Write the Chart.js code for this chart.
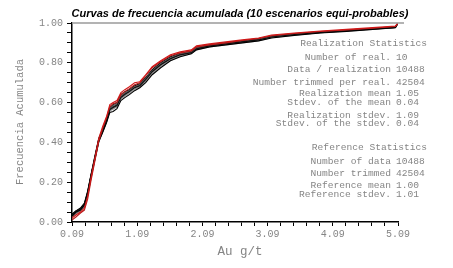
<!DOCTYPE html>
<html>
<head>
<meta charset="utf-8">
<script src="https://cdn.jsdelivr.net/npm/chart.js@4.4.1/dist/chart.umd.min.js"></script>
<style>
  body { margin: 0; background: #fff; }
  #wrap { width: 453px; height: 268px; }
</style>
</head>
<body>
<div id="wrap"><canvas id="cdfChart" width="453" height="268"></canvas></div>
<script>
// grades (Au g/t) shared by every realization
const grades = [0.09, 0.15, 0.22, 0.28, 0.33, 0.38, 0.44, 0.50, 0.56, 0.62, 0.67, 0.72, 0.78, 0.84, 0.90, 0.97, 1.05, 1.13, 1.22, 1.32, 1.45, 1.60, 1.75, 1.92, 2.00, 2.20, 2.45, 2.70, 2.95, 3.15, 3.50, 3.90, 4.30, 4.70, 5.05, 5.09];

// cumulative frequency of each realization
const real1 = [0.020,0.035,0.050,0.070,0.130,0.220,0.320,0.420,0.480,0.530,0.590,0.600,0.610,0.650,0.665,0.680,0.700,0.705,0.740,0.780,0.810,0.840,0.855,0.865,0.885,0.895,0.905,0.915,0.925,0.940,0.950,0.960,0.968,0.977,0.985,1.000];
const real2 = [0.010,0.025,0.045,0.060,0.115,0.205,0.305,0.405,0.470,0.525,0.580,0.595,0.600,0.640,0.655,0.670,0.690,0.700,0.735,0.775,0.805,0.835,0.850,0.860,0.880,0.890,0.900,0.912,0.922,0.936,0.947,0.957,0.965,0.974,0.982,1.000];
const real3 = [0.030,0.050,0.060,0.085,0.145,0.225,0.315,0.405,0.450,0.500,0.550,0.555,0.570,0.610,0.625,0.640,0.660,0.675,0.700,0.740,0.775,0.810,0.830,0.845,0.865,0.880,0.890,0.900,0.910,0.925,0.938,0.950,0.958,0.968,0.976,1.000];
const real4 = [0.035,0.055,0.065,0.090,0.150,0.230,0.325,0.415,0.460,0.510,0.565,0.575,0.585,0.625,0.640,0.655,0.675,0.685,0.715,0.755,0.790,0.820,0.840,0.850,0.870,0.885,0.895,0.905,0.915,0.930,0.942,0.953,0.961,0.970,0.978,1.000];
const real5 = [0.025,0.045,0.060,0.080,0.140,0.225,0.315,0.405,0.455,0.505,0.570,0.585,0.595,0.635,0.650,0.660,0.680,0.690,0.720,0.760,0.795,0.825,0.845,0.855,0.875,0.887,0.897,0.908,0.918,0.932,0.944,0.955,0.963,0.972,0.980,1.000];
const real6 = [0.030,0.045,0.055,0.075,0.135,0.215,0.310,0.400,0.455,0.505,0.560,0.570,0.580,0.620,0.635,0.650,0.670,0.680,0.710,0.750,0.785,0.815,0.835,0.848,0.868,0.882,0.892,0.902,0.912,0.927,0.940,0.951,0.960,0.969,0.977,1.000];
const real7 = [0.040,0.055,0.070,0.095,0.155,0.235,0.330,0.420,0.465,0.515,0.575,0.590,0.600,0.640,0.655,0.665,0.685,0.695,0.725,0.765,0.800,0.830,0.848,0.858,0.878,0.890,0.900,0.910,0.920,0.934,0.946,0.956,0.964,0.973,0.981,1.000];
const real8 = [0.025,0.040,0.055,0.075,0.135,0.220,0.312,0.402,0.452,0.502,0.558,0.566,0.578,0.618,0.632,0.646,0.666,0.678,0.706,0.746,0.782,0.812,0.832,0.846,0.866,0.880,0.890,0.900,0.910,0.926,0.939,0.951,0.959,0.968,0.977,1.000];
const real9 = [0.030,0.050,0.062,0.082,0.142,0.228,0.320,0.410,0.458,0.508,0.562,0.572,0.590,0.630,0.645,0.658,0.678,0.688,0.718,0.758,0.792,0.822,0.842,0.852,0.872,0.886,0.896,0.906,0.916,0.931,0.943,0.954,0.962,0.971,0.979,1.000];
const real10 = [0.035,0.050,0.065,0.088,0.148,0.232,0.322,0.412,0.462,0.512,0.567,0.580,0.588,0.628,0.643,0.656,0.676,0.686,0.716,0.756,0.790,0.820,0.840,0.852,0.872,0.885,0.895,0.905,0.915,0.930,0.942,0.953,0.961,0.970,0.978,1.000];

const realizations = [real1, real2, real3, real4, real5, real6, real7, real8, real9, real10];
const lineColors = ['#d01818', '#b81c1c', '#000000', '#111111', '#555555', '#888888', '#000000', '#aaaaaa', '#333333', '#1a1a1a'];

const xTickLabels = ['0.09', '1.09', '2.09', '3.09', '4.09', '5.09'];
const yTickLabels = ['0.00', '0.20', '0.40', '0.60', '0.80', '1.00'];

const realStats = [
    ['Number of real.', '10'],
    ['Data / realization', '10488'],
    ['Number trimmed per real.', '42504'],
    ['Realization mean', '1.05'],
    ['Stdev. of the mean', '0.04'],
    ['Realization stdev.', '1.09'],
    ['Stdev. of the stdev.', '0.04']
];
const refStats = [
    ['Number of data', '10488'],
    ['Number trimmed', '42504'],
    ['Reference mean', '1.00'],
    ['Reference stdev.', '1.01']
];

const monoFont = '"Liberation Mono", "DejaVu Sans Mono", monospace';
const textGrey = '#858585';

let datasets = realizations.map(function (vals, i) {
    return {
        label: 'Realization ' + (i + 1),
        data: grades.map(function (g, j) { return { x: g, y: vals[j] }; }),
        borderColor: lineColors[i],
        borderWidth: 1.1,
        pointRadius: 0,
        tension: 0,
        fill: false
    };
});

// text, the grey 1.00 line and statistics boxes
const decorations = {
    id: 'decorations',
    afterDraw(chart) {
        const ctx = chart.ctx;
        const area = chart.chartArea;
        const yTop = chart.scales.y.getPixelForValue(1);
        ctx.save();

        ctx.strokeStyle = '#9a9a9a';
        ctx.lineWidth = 1.5;
        ctx.beginPath();
        ctx.moveTo(area.left, yTop);
        ctx.lineTo(area.right + 6, yTop);
        ctx.stroke();

        ctx.fillStyle = '#000';
        ctx.font = 'italic bold 11px "Liberation Sans", Arial, sans-serif';
        ctx.textAlign = 'center';
        ctx.textBaseline = 'middle';
        ctx.fillText('Curvas de frecuencia acumulada (10 escenarios equi-probables)', 240, 14);

        ctx.fillStyle = textGrey;
        ctx.font = '12.5px ' + monoFont;
        ctx.fillText('Au g/t', 240, 252);

        ctx.font = '10.5px ' + monoFont;
        ctx.translate(20, 122);
        ctx.rotate(-Math.PI / 2);
        ctx.fillText('Frecuencia Acumulada', 0, 0);
        ctx.setTransform(1, 0, 0, 1, 0, 0);

        ctx.font = '9.6px ' + monoFont;
        ctx.textAlign = 'right';
        ctx.fillText('Realization Statistics', 427, 43);
        ctx.fillText('Reference Statistics', 427, 147);

        let realY = [57, 69, 82, 93, 102, 115, 123.5];
        realStats.forEach(function (row, i) {
            ctx.textAlign = 'right';
            ctx.fillText(row[0], 391, realY[i]);
            ctx.textAlign = 'left';
            ctx.fillText(row[1], 396, realY[i]);
        });
        let refY = [161, 173.5, 185, 194];
        refStats.forEach(function (row, i) {
            ctx.textAlign = 'right';
            ctx.fillText(row[0], 391, refY[i]);
            ctx.textAlign = 'left';
            ctx.fillText(row[1], 396, refY[i]);
        });
        ctx.restore();
    }
};

const ctx = document.getElementById('cdfChart');
new Chart(ctx, {
    type: 'line',
    data: { datasets: datasets },
    options: {
        responsive: false,
        animation: false,
        layout: { padding: { top: 23, right: 55, left: 0, bottom: 0 } },
        plugins: {
            legend: { display: false },
            tooltip: { enabled: false }
        },
        scales: {
            x: {
                type: 'linear',
                min: 0.09,
                max: 5.09,
                afterFit: function (scale) { scale.height = 46; },
                afterBuildTicks: function (scale) {
                    let t = [];
                    for (let i = 0; i <= 25; i++) {
                        t.push({ value: 0.09 + i * 0.2 });
                    }
                    scale.ticks = t;
                },
                ticks: {
                    autoSkip: false,
                    maxRotation: 0,
                    padding: 2,
                    color: textGrey,
                    font: { family: monoFont, size: 10 },
                    callback: function (value, index) {
                        return index % 5 === 0 ? xTickLabels[index / 5] : '';
                    }
                },
                grid: { drawOnChartArea: false, drawTicks: true, tickLength: 4, color: '#000', lineWidth: 1 },
                border: { display: true, color: '#000', width: 1.5 }
            },
            y: {
                min: 0,
                max: 1,
                afterFit: function (scale) { scale.width = 72; },
                afterBuildTicks: function (scale) {
                    let t = [];
                    for (let i = 0; i <= 20; i++) {
                        t.push({ value: i * 0.05 });
                    }
                    scale.ticks = t;
                },
                ticks: {
                    autoSkip: false,
                    padding: 4,
                    color: textGrey,
                    font: { family: monoFont, size: 10 },
                    callback: function (value, index) {
                        return index % 4 === 0 ? yTickLabels[index / 4] : '';
                    }
                },
                grid: { drawOnChartArea: false, drawTicks: true, tickLength: 5, color: '#000', lineWidth: 1 },
                border: { display: true, color: '#000', width: 1.5 }
            }
        }
    },
    plugins: [decorations]
});
</script>
</body>
</html>
